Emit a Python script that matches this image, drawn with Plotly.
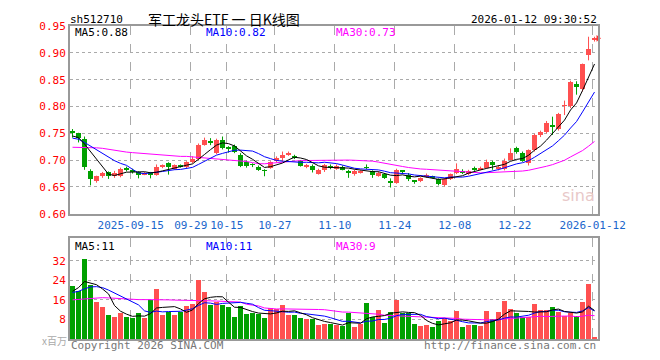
import plotly.graph_objects as go

# ---------------- data ----------------
dates = (["2025-09-%02d" % d for d in [1,2,3,4,5,8,9,10,11,12,15,16,17,18,19,22,23,24,25,26,29,30]] +
         ["2025-10-%02d" % d for d in [9,10,13,14,15,16,17,20,21,22,23,24,27,28,29,30,31]] +
         ["2025-11-%02d" % d for d in [3,4,5,6,7,10,11,12,13,14,17,18,19,20,21,24,25,26,27,28]] +
         ["2025-12-%02d" % d for d in [1,2,3,4,5,8,9,10,11,12,15,16,17,18,19,22,23,24,25,26,29,30,31]] +
         ["2026-01-%02d" % d for d in [5,6,7,8,9,12]])

opens = [.755,.750,.740,.680,.661,.670,.677,.671,.671,.684,.682,.678,.674,.677,.673,.688,.694,.683,.691,.687,
         .696,.703,.729,.734,.713,.738,.723,.727,.710,.697,.692,.688,.681,.686,.698,.704,.711,.708,.698,.689,
         .690,.674,.681,.688,.684,.688,.680,.674,.677,.687,.679,.671,.674,.660,.658,.680,.673,.661,.661,.669,
         .669,.664,.654,.665,.676,.678,.674,.684,.683,.686,.697,.684,.683,.701,.722,.714,.694,.718,.747,.752,
         .764,.758,.801,.800,.842,.832,.896,.923]
highs = [.758,.751,.744,.683,.671,.678,.679,.680,.686,.688,.684,.679,.678,.678,.692,.692,.696,.692,.692,.698,
         .707,.731,.742,.741,.740,.744,.726,.729,.713,.699,.694,.690,.683,.698,.707,.716,.716,.710,.700,.693,
         .692,.684,.693,.692,.692,.690,.682,.682,.681,.692,.681,.679,.676,.666,.684,.681,.676,.663,.668,.675,
         .671,.666,.667,.675,.694,.683,.682,.688,.688,.701,.699,.690,.703,.722,.725,.716,.720,.749,.755,.773,
         .781,.788,.811,.848,.847,.880,.930,.930]
lows = [.742,.733,.682,.653,.658,.667,.665,.667,.668,.679,.675,.666,.672,.666,.671,.685,.673,.682,.686,.685,
        .694,.700,.727,.728,.711,.720,.714,.713,.687,.686,.687,.680,.670,.684,.696,.697,.708,.702,.688,.685,
        .677,.673,.678,.683,.682,.681,.667,.671,.675,.683,.667,.669,.665,.649,.656,.674,.661,.656,.659,.667,
        .666,.653,.651,.663,.674,.674,.672,.680,.681,.684,.682,.681,.681,.700,.712,.697,.690,.716,.743,.750,
        .747,.755,.784,.797,.822,.828,.886,.921]
closes = [.751,.741,.688,.665,.670,.676,.670,.676,.683,.683,.677,.673,.676,.673,.688,.690,.688,.691,.688,.696,
          .702,.729,.738,.733,.738,.723,.722,.716,.690,.689,.691,.682,.680,.697,.704,.710,.712,.704,.690,.690,
          .681,.682,.691,.687,.689,.682,.677,.680,.678,.686,.672,.676,.667,.659,.682,.679,.664,.660,.666,.671,
          .668,.656,.665,.674,.683,.677,.680,.683,.686,.697,.691,.688,.699,.714,.715,.699,.718,.747,.752,.770,
          .763,.786,.802,.846,.836,.879,.908,.927]

volumes = [21.6,19.7,32.8,22.0,14.9,12.9,9.6,8.9,10.5,8.9,8.4,10.5,8.4,15.7,20.4,9.6,10.9,9.6,10.9,13.6,
           14.3,24.0,19.3,14.0,14.9,14.0,13.1,8.9,13.6,10.0,10.5,10.0,8.4,12.4,12.0,14.0,9.6,9.6,8.3,8.0,
           8.0,5.6,6.0,6.0,5.6,5.3,10.4,4.8,6.1,14.8,9.0,11.6,6.4,10.8,16.0,10.7,10.4,6.0,5.2,5.6,
           4.8,7.2,8.3,7.2,11.2,4.8,5.6,5.6,5.2,11.2,8.0,10.8,15.6,12.0,10.7,9.0,9.0,14.4,11.6,11.6,
           12.8,10.8,9.5,10.4,9.5,15.2,22.4,0.8]

# moving-average values before a full window exists
ma5_lead = [.745,.742,.730,.716]
ma10_lead = [.741,.739,.733,.726,.719,.712,.705,.699,.694]
ma30_lead = [.724,.724,.724,.723,.723,.722,.720,.718,.716,.715,.714,.713,.712,.712,.711,.710,.709,.708,
             .707,.707,.706,.705,.704,.703,.703,.702,.701,.700,.699]
vma5_lead = [19.5,21.0,23.5,23.0]
vma10_lead = [19.0,19.5,20.5,21.3,21.4,21.0,20.0,18.8,17.5]
vma30_lead = [16.0,16.2,16.5,16.7,16.9,16.9,16.8,16.6,16.4,16.3,16.2,16.1,16.1,16.0,16.0,16.0,16.0,15.9,
              15.9,15.9,15.8,15.8,15.7,15.6,15.5,15.4,15.3,15.2,15.1]

tick_dates = ["2025-09-15","2025-09-29","2025-10-15","2025-10-27","2025-11-10","2025-11-24",
              "2025-12-08","2025-12-22","2026-01-12"]
tick_text = ["2025-09-15","09-29","10-15","10-27","11-10","11-24","12-08","12-22","2026-01-12"]
price_ticks = [0.60,0.65,0.70,0.75,0.80,0.85,0.90,0.95]
vol_ticks = [8,16,24,32]

# ---------------- helpers ----------------
def ma(vals, n, lead):
    out = list(lead)
    for i in range(len(lead), len(vals)):
        out.append(sum(vals[i-n+1:i+1]) / n)
    return out

N = len(closes)
xs = list(range(N))
RED = "#ff5050"
GREEN = "#00a000"
MAGENTA = "#ff00ff"
BLUE = "#0000ff"

fig = go.Figure()

up = lambda i: closes[i] >= opens[i]
# wicks
for col, cond in [(RED, up), (GREEN, lambda i: not up(i))]:
    wx, wy = [], []
    for i in xs:
        if cond(i):
            wx += [i, i, None]
            wy += [lows[i], highs[i], None]
    fig.add_trace(go.Scatter(x=wx, y=wy, mode="lines", line=dict(color=col, width=1),
                             hoverinfo="skip", showlegend=False, xaxis="x", yaxis="y"))
# bodies
for col, cond in [(RED, up), (GREEN, lambda i: not up(i))]:
    bx = [i for i in xs if cond(i)]
    base = [min(opens[i], closes[i]) for i in bx]
    h = [max(abs(closes[i] - opens[i]), 0.0012) for i in bx]
    fig.add_trace(go.Bar(x=bx, y=h, base=base, width=0.8, marker=dict(color=col, line=dict(width=0)),
                         showlegend=False, hoverinfo="skip", xaxis="x", yaxis="y"))

# price MAs
for vals, col in [(ma(closes, 30, ma30_lead), MAGENTA), (ma(closes, 10, ma10_lead), BLUE),
                  (ma(closes, 5, ma5_lead), "#000000")]:
    fig.add_trace(go.Scatter(x=xs, y=vals, mode="lines", line=dict(color=col, width=1),
                             showlegend=False, hoverinfo="skip", xaxis="x", yaxis="y"))

# current price marker at right edge
fig.add_trace(go.Scatter(x=[N - 0.42], y=[closes[-1]], mode="markers",
                         marker=dict(symbol="triangle-right", size=6, color="#ff3030"),
                         showlegend=False, hoverinfo="skip", cliponaxis=False, xaxis="x", yaxis="y"))

# volume bars
vcol = [RED if up(i) else GREEN for i in xs]
fig.add_trace(go.Bar(x=xs, y=volumes, width=0.8, marker=dict(color=vcol, line=dict(width=0)),
                     showlegend=False, hoverinfo="skip", xaxis="x2", yaxis="y2"))
for vals, col in [(ma(volumes, 30, vma30_lead), MAGENTA), (ma(volumes, 10, vma10_lead), BLUE),
                  (ma(volumes, 5, vma5_lead), "#000000")]:
    fig.add_trace(go.Scatter(x=xs, y=vals, mode="lines", line=dict(color=col, width=1),
                             showlegend=False, hoverinfo="skip", xaxis="x2", yaxis="y2"))

tick_idx = [dates.index(d) - 0.3 for d in tick_dates]
MONO = "DejaVu Sans Mono"
xr = [-0.42, N - 0.42]
common_x = dict(range=xr, showgrid=True, gridcolor="#aaaaaa", griddash="dash", gridwidth=1,
                showline=True, linecolor="#999999", linewidth=2, mirror=True, zeroline=False,
                tickvals=tick_idx, ticks="", fixedrange=True)
# page body has an 8px margin: figure is 650x350 placed at (8,8)
fig.update_layout(
    width=650, height=350, margin=dict(l=62, r=60, t=12, b=18),
    paper_bgcolor="white", plot_bgcolor="white", barmode="overlay", bargap=0,
    font=dict(family=MONO, size=11, color="#000000"),
    xaxis=dict(common_x, domain=[0, 1], anchor="y", ticktext=tick_text, showticklabels=True,
               tickfont=dict(color="#1a66cc", size=11, family=MONO)),
    yaxis=dict(domain=[0.4, 1.0], range=[0.60, 0.95], tickvals=price_ticks,
               ticktext=["%.2f" % v for v in price_ticks],
               showgrid=True, gridcolor="#aaaaaa", griddash="dot", zeroline=False,
               showline=True, linecolor="#999999", linewidth=2, mirror=True,
               tickfont=dict(color="#ff0000", size=11, family=MONO), ticks="", fixedrange=True),
    xaxis2=dict(common_x, domain=[0, 1], anchor="y2", ticktext=[""] * len(tick_idx), showticklabels=False),
    yaxis2=dict(domain=[0, 0.322], range=[0, 41.2], tickvals=vol_ticks,
                ticktext=[str(v) for v in vol_ticks],
                showgrid=True, gridcolor="#aaaaaa", griddash="dot", zeroline=False,
                showline=True, linecolor="#999999", linewidth=2, mirror=True,
                tickfont=dict(color="#ff0000", size=11, family=MONO), ticks="", fixedrange=True),
)

# helpers to place text by page pixel (plot area spans page x 70..598, y 20..340)
def px(x):
    return (x - 70) / 528.0

def py(y):
    return (340 - y) / 320.0

def note(text, x, y, color="#000000", size=11, anchor="left", family=MONO):
    fig.add_annotation(text=text, x=px(x), y=py(y), xref="paper", yref="paper", showarrow=False,
                       xanchor=anchor, yanchor="middle", font=dict(color=color, size=size, family=family))

note("sh512710", 68, 13)
note("军工龙头ETF 一 日K线图", 224, 13, size=14, anchor="center", family="Noto Sans CJK SC")
note("2026-01-12 09:30:52", 599, 13, anchor="right")
note("MA5:0.88", 73, 27)
note("MA10:0.82", 204, 27, color=BLUE)
note("MA30:0.73", 334, 27, color=MAGENTA)
note("MA5:11", 73, 245)
note("MA10:11", 204, 245, color=BLUE)
note("MA30:9", 334, 245, color=MAGENTA)
note("x百万", 40, 342, color="#aaaaaa", size=10, family="Noto Sans CJK SC")
note("Copyright 2026 SINA.COM", 69, 347, color="#777777")
note("http://finance.sina.com.cn", 598, 347, color="#777777", anchor="right")
note("sina", 578, 193, color="#e8c8c8", size=16, anchor="center", family="DejaVu Sans")

fig.write_html("out.html")
